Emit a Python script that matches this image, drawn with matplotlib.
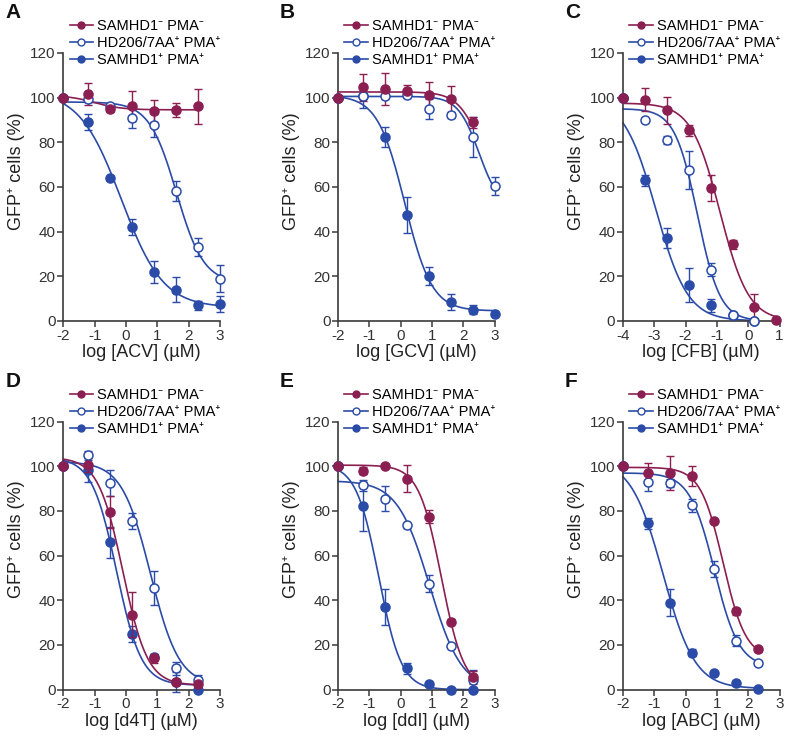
import numpy as np
import matplotlib
matplotlib.use("Agg")
import matplotlib.pyplot as plt

plt.rcParams['font.family'] = ['Liberation Sans', 'Noto Sans', 'DejaVu Sans']
plt.rcParams['axes.unicode_minus'] = False

# x positions (log concentration, uM)
x_main = [-2, -1.2, -0.5, 0.2, 0.9, 1.6, 2.3, 3.0]
x_short = [-2, -1.2, -0.5, 0.2, 0.9, 1.6, 2.3]
x_cfb = [-4, -3.3, -2.6, -1.9, -1.2, -0.5, 0.2, 0.9]

# A: ACV
acv_neg = [100, 101.7, 94.9, 96.2, 94.0, 94.5, 96.0]
acv_neg_err = [0, 5.0, 1.5, 6.5, 5.0, 3.0, 8.0]
acv_mut = [100, 99.5, 96.0, 91.0, 87.5, 58.0, 33.0, 19.0]
acv_mut_err = [0, 1.5, 1.0, 4.5, 5.0, 4.5, 4.0, 6.0]
acv_pos = [100, 89.0, 64.0, 42.0, 22.0, 14.0, 7.0, 7.5]
acv_pos_err = [0, 3.5, 1.0, 3.5, 5.0, 5.5, 2.0, 3.5]
# fitted curves: top, bottom, logIC50, hill
acv_fit = [[101, 94.5, -1.0, 1.0], [98, 17, 1.61, 1.0], [103, 6, -0.15, 0.65]]

# B: GCV
gcv_neg = [100, 104.5, 103.8, 103.0, 101.0, 99.3, 89.0]
gcv_neg_err = [0, 6.0, 7.0, 2.5, 6.0, 6.0, 2.5]
gcv_mut = [100, 100.5, 100.5, 101.0, 95.0, 92.0, 82.5, 60.5]
gcv_mut_err = [0, 5.0, 1.0, 1.0, 4.5, 1.0, 9.0, 4.0]
gcv_pos = [100, 100.5, 82.5, 47.5, 20.0, 8.5, 5.0, 3.0]
gcv_pos_err = [0, 1.0, 4.5, 8.0, 4.0, 3.5, 2.0, 1.0]
gcv_fit = [[102.5, 60, 2.5, 1.2], [100.5, 50, 2.5, 1.3], [101, 4.5, 0.13, 1.0]]

# C: CFB
cfb_neg = [100, 99.1, 94.2, 85.4, 59.5, 34.4, 6.4, 0.5]
cfb_neg_err = [0, 5.0, 6.0, 2.5, 6.0, 2.0, 5.5, 0.5]
cfb_mut = [100, 90.0, 81.0, 67.5, 23.0, 2.5, 0.0]
cfb_mut_err = [0, 1.0, 2.0, 8.5, 3.0, 1.0, 0.5]
cfb_pos = [100, 63.0, 37.0, 16.0, 7.0, 2.5, 0.0]
cfb_pos_err = [0, 2.5, 4.5, 7.5, 3.0, 1.5, 0.5]
cfb_fit = [[97.5, 0, -0.9, 0.95], [95, 0, -1.62, 1.2], [100, 0, -2.95, 0.85]]

# D: d4T
d4t_neg = [100, 100.5, 79.5, 33.5, 14.0, 3.5, 2.5]
d4t_neg_err = [0, 3.0, 7.0, 10.0, 2.0, 1.5, 1.0]
d4t_mut = [100, 105.0, 92.5, 75.5, 45.5, 9.5, 4.5]
d4t_mut_err = [0, 2.0, 6.0, 3.5, 7.5, 3.0, 2.0]
d4t_pos = [100, 98.5, 66.0, 25.0, 14.8, 3.5, 0.0]
d4t_pos_err = [0, 5.5, 7.0, 3.5, 1.0, 4.5, 0.5]
d4t_fit = [[104, 2, -0.1, 1.1], [102, 2, 0.78, 0.95], [104, 2, -0.3, 1.1]]

# E: ddI
ddi_neg = [100, 98.0, 100.0, 94.5, 77.5, 30.5, 5.5]
ddi_neg_err = [0, 1.5, 1.0, 6.0, 3.0, 1.0, 3.0]
ddi_mut = [100, 91.5, 85.5, 73.5, 47.5, 19.5, 4.5]
ddi_mut_err = [0, 2.5, 5.5, 1.0, 4.0, 1.0, 4.5]
ddi_pos = [100, 82.0, 37.0, 9.5, 2.5, 0.0, 0.0]
ddi_pos_err = [0, 11.0, 8.0, 2.5, 1.0, 0.5, 0.5]
ddi_fit = [[100.5, 0, 1.3, 1.2], [93.5, 0, 0.92, 0.85], [101, 0, -0.7, 1.2]]

# F: ABC
abc_neg = [100, 97.0, 97.0, 95.5, 75.5, 35.0, 18.0]
abc_neg_err = [0, 4.5, 7.5, 4.5, 1.0, 1.5, 1.0]
abc_mut = [100, 93.0, 92.5, 82.5, 54.0, 22.0, 12.0]
abc_mut_err = [0, 4.0, 2.0, 3.0, 3.5, 2.5, 1.0]
abc_pos = [100, 74.5, 39.0, 16.5, 7.5, 3.0, 0.5]
abc_pos_err = [0, 2.5, 6.0, 1.5, 1.0, 0.5, 0.5]
abc_fit = [[99.5, 14, 1.2, 1.2], [97, 10, 0.92, 1.1], [103, 0.5, -0.72, 0.85]]

labels = ['SAMHD1\u207b PMA\u207b', 'HD206/7AA\u207a PMA\u207a', 'SAMHD1\u207a PMA\u207a']
maroon = '#8b1f52'
blue = '#2b4ba8'

panels = [
    ('A', 'ACV', (x_main[:7], acv_neg, acv_neg_err), (x_main, acv_mut, acv_mut_err), (x_main, acv_pos, acv_pos_err), acv_fit, (-2, 3)),
    ('B', 'GCV', (x_main[:7], gcv_neg, gcv_neg_err), (x_main, gcv_mut, gcv_mut_err), (x_main, gcv_pos, gcv_pos_err), gcv_fit, (-2, 3)),
    ('C', 'CFB', (x_cfb, cfb_neg, cfb_neg_err), (x_cfb[:7], cfb_mut, cfb_mut_err), (x_cfb[:7], cfb_pos, cfb_pos_err), cfb_fit, (-4, 1)),
    ('D', 'd4T', (x_short, d4t_neg, d4t_neg_err), (x_short, d4t_mut, d4t_mut_err), (x_short, d4t_pos, d4t_pos_err), d4t_fit, (-2, 3)),
    ('E', 'ddI', (x_short, ddi_neg, ddi_neg_err), (x_short, ddi_mut, ddi_mut_err), (x_short, ddi_pos, ddi_pos_err), ddi_fit, (-2, 3)),
    ('F', 'ABC', (x_short, abc_neg, abc_neg_err), (x_short, abc_mut, abc_mut_err), (x_short, abc_pos, abc_pos_err), abc_fit, (-2, 3)),
]

lefts = [0.0805, 0.4295, 0.7915]
bottoms = [0.5645, 0.0642]
w, h = 0.199, 0.3638


def logistic(x, p):
    top, bot, c, hill = p
    return bot + (top - bot) / (1 + 10 ** ((x - c) * hill))


fig = plt.figure(figsize=(7.87, 7.37), dpi=100)
axis_col = '#3a3a3a'

for i, (letter, drug, neg, mut, pos, fits, xl) in enumerate(panels):
    ax = fig.add_axes([lefts[i % 3], bottoms[i // 3], w, h])
    series = [(neg, maroon, maroon, 5), (mut, blue, 'white', 4), (pos, blue, blue, 3)]
    handles = []
    for k, ((xs, ys, es), col, face, z) in enumerate(series):
        xx = np.linspace(xl[0], xs[-1], 200)
        ax.plot(xx, logistic(xx, fits[k]), color=col, lw=1.2, zorder=z - 2, clip_on=False)
        ax.errorbar(xs, ys, yerr=es, fmt='none', ecolor=col, elinewidth=1.0,
                    capsize=3.2, capthick=1.0, zorder=z - 1, clip_on=False)
        ax.plot(xs, ys, 'o', ms=6.5, mfc=face, mec=col, mew=1.1, zorder=z, clip_on=False)
        hd, = ax.plot([], [], '-o', color=col, mfc=face, mec=col, ms=5, lw=1.2, mew=1.0)
        handles.append(hd)

    ax.set_xlim(*xl)
    ax.set_ylim(0, 120)
    ax.set_xticks(range(xl[0], xl[1] + 1))
    ax.set_yticks(range(0, 121, 20))
    for s in ['top', 'right']:
        ax.spines[s].set_visible(False)
    for s in ['left', 'bottom']:
        ax.spines[s].set_color(axis_col)
        ax.spines[s].set_linewidth(1.2)
    ax.tick_params(direction='out', length=4, width=1.1, color=axis_col,
                   labelsize=11, labelcolor='#333333', pad=1.5)
    ax.set_xlabel('log [%s] (\u00b5M)' % drug, fontsize=13, labelpad=1, color='#222222')
    ax.set_ylabel('GFP\u207a cells (%)', fontsize=13, color='#222222')
    ax.yaxis.set_label_coords(-0.245, 0.56)
    ax.legend(handles, labels, loc='upper left', bbox_to_anchor=(0.04, 1.125),
              frameon=False, fontsize=10.5, handlelength=1.6, handletextpad=0.3,
              labelspacing=0.2, borderpad=0, borderaxespad=0)
    ax.text(-0.37, 1.15, letter, transform=ax.transAxes, fontsize=15,
            fontweight='bold', va='center', ha='left', color='#111111')

fig.savefig('out.png', dpi=100)
